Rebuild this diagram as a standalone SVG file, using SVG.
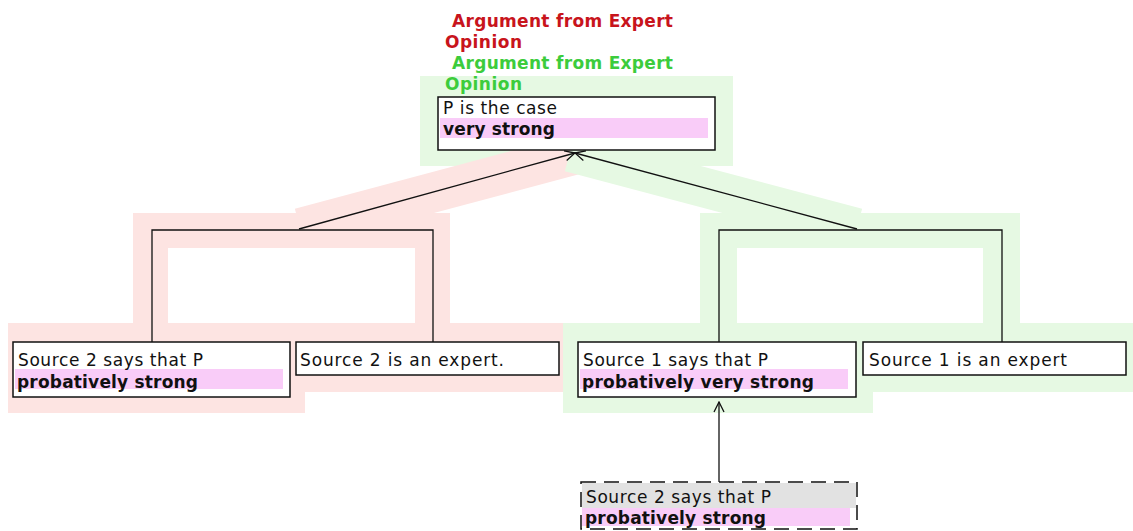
<svg xmlns="http://www.w3.org/2000/svg" width="1133" height="531" viewBox="0 0 1133 531">
<style>
.bg{fill:#ffffff}
.pk{fill:#fde4e2}
.gr{fill:#e6f9e3}
.box{fill:#ffffff;stroke:#111;stroke-width:1.5}
.dbox{fill:none;stroke:#111;stroke-width:1.5;stroke-dasharray:15 8}
.band{fill:#f9ccf8}
.grey{fill:#e2e2e2}
.t{font-family:"DejaVu Sans","Liberation Sans",sans-serif;font-size:17px;fill:#111}
.b{font-family:"DejaVu Sans","Liberation Sans",sans-serif;font-size:17px;font-weight:bold;fill:#111}
.lbl{font-family:"DejaVu Sans","Liberation Sans",sans-serif;font-size:17px;font-weight:bold}
.red{fill:#c8141c}
.green{fill:#3ccc3c}
.ln{fill:none;stroke:#111;stroke-width:1.3}
</style>
<defs>
<marker id="arr" viewBox="0 0 12 12" refX="11" refY="6" markerWidth="12" markerHeight="12" markerUnits="userSpaceOnUse" orient="auto">
<path d="M1,1 L11,6 L1,11" fill="none" stroke="#111" stroke-width="1.3"/>
</marker>
</defs>
<rect class="bg" x="0" y="0" width="1133" height="531"/>
<g id="highlights">
<rect class="gr" x="420" y="76" width="313" height="90"/>
<line x1="300" y1="228" x2="585" y2="152" stroke="#fde4e2" stroke-width="40"/>
<line x1="857" y1="228" x2="570" y2="152" stroke="#e6f9e3" stroke-width="40"/>
<path class="pk" d="M133,213 H450 V323 H563 V392 H305 V413 H8 V323 H133 Z"/>
<path class="gr" d="M700,213 H1020 V323 H1133 V392 H873 V413 H563 V323 H700 Z"/>
<rect class="bg" x="168" y="248" width="247" height="75"/>
<rect class="bg" x="737" y="248" width="246" height="75"/>
</g>
<g id="labels">
<text class="lbl red" x="452" y="27" textLength="221">Argument from Expert</text>
<text class="lbl red" x="445" y="48" textLength="77">Opinion</text>
<text class="lbl green" x="452" y="69" textLength="221">Argument from Expert</text>
<text class="lbl green" x="445" y="90" textLength="77">Opinion</text>
</g>
<g id="connectors">
<path class="ln" d="M152,342 V230 H433 V342"/>
<path class="ln" d="M719,342 V230 H1002 V342"/>
<line class="ln" x1="299" y1="229" x2="575" y2="153" marker-end="url(#arr)"/>
<line class="ln" x1="857" y1="229" x2="575" y2="153" marker-end="url(#arr)"/>
<line class="ln" x1="719" y1="482" x2="719" y2="402" marker-end="url(#arr)"/>
</g>
<g id="node-conclusion">
<rect class="box" x="438" y="97" width="277" height="53"/>
<rect class="band" x="440" y="118" width="268" height="20"/>
<text class="t" x="443" y="114" textLength="114">P is the case</text>
<text class="b" x="443" y="135" textLength="112">very strong</text>
</g>
<g id="node-source2-says">
<rect class="box" x="13" y="342" width="277" height="55"/>
<rect class="band" x="15" y="369" width="268" height="20"/>
<text class="t" x="18" y="366" textLength="185">Source 2 says that P</text>
<text class="b" x="17" y="388" textLength="181">probatively strong</text>
</g>
<g id="node-source2-expert">
<rect class="box" x="296" y="342" width="263" height="33"/>
<text class="t" x="300" y="366" textLength="204">Source 2 is an expert.</text>
</g>
<g id="node-source1-says">
<rect class="box" x="578" y="342" width="278" height="55"/>
<rect class="band" x="580" y="369" width="268" height="20"/>
<text class="t" x="583" y="366" textLength="185">Source 1 says that P</text>
<text class="b" x="582" y="388" textLength="232">probatively very strong</text>
</g>
<g id="node-source1-expert">
<rect class="box" x="863" y="342" width="263" height="33"/>
<text class="t" x="869" y="366" textLength="198">Source 1 is an expert</text>
</g>
<g id="node-source2-says-dashed">
<rect class="bg" x="581" y="482" width="276" height="48"/>
<rect class="grey" x="582" y="483" width="274" height="25"/>
<rect class="band" x="582" y="508" width="268" height="18"/>
<rect class="dbox" x="581" y="482" width="276" height="47"/>
<text class="t" x="586" y="503" textLength="185">Source 2 says that P</text>
<text class="b" x="585" y="524" textLength="181">probatively strong</text>
</g>
</svg>
